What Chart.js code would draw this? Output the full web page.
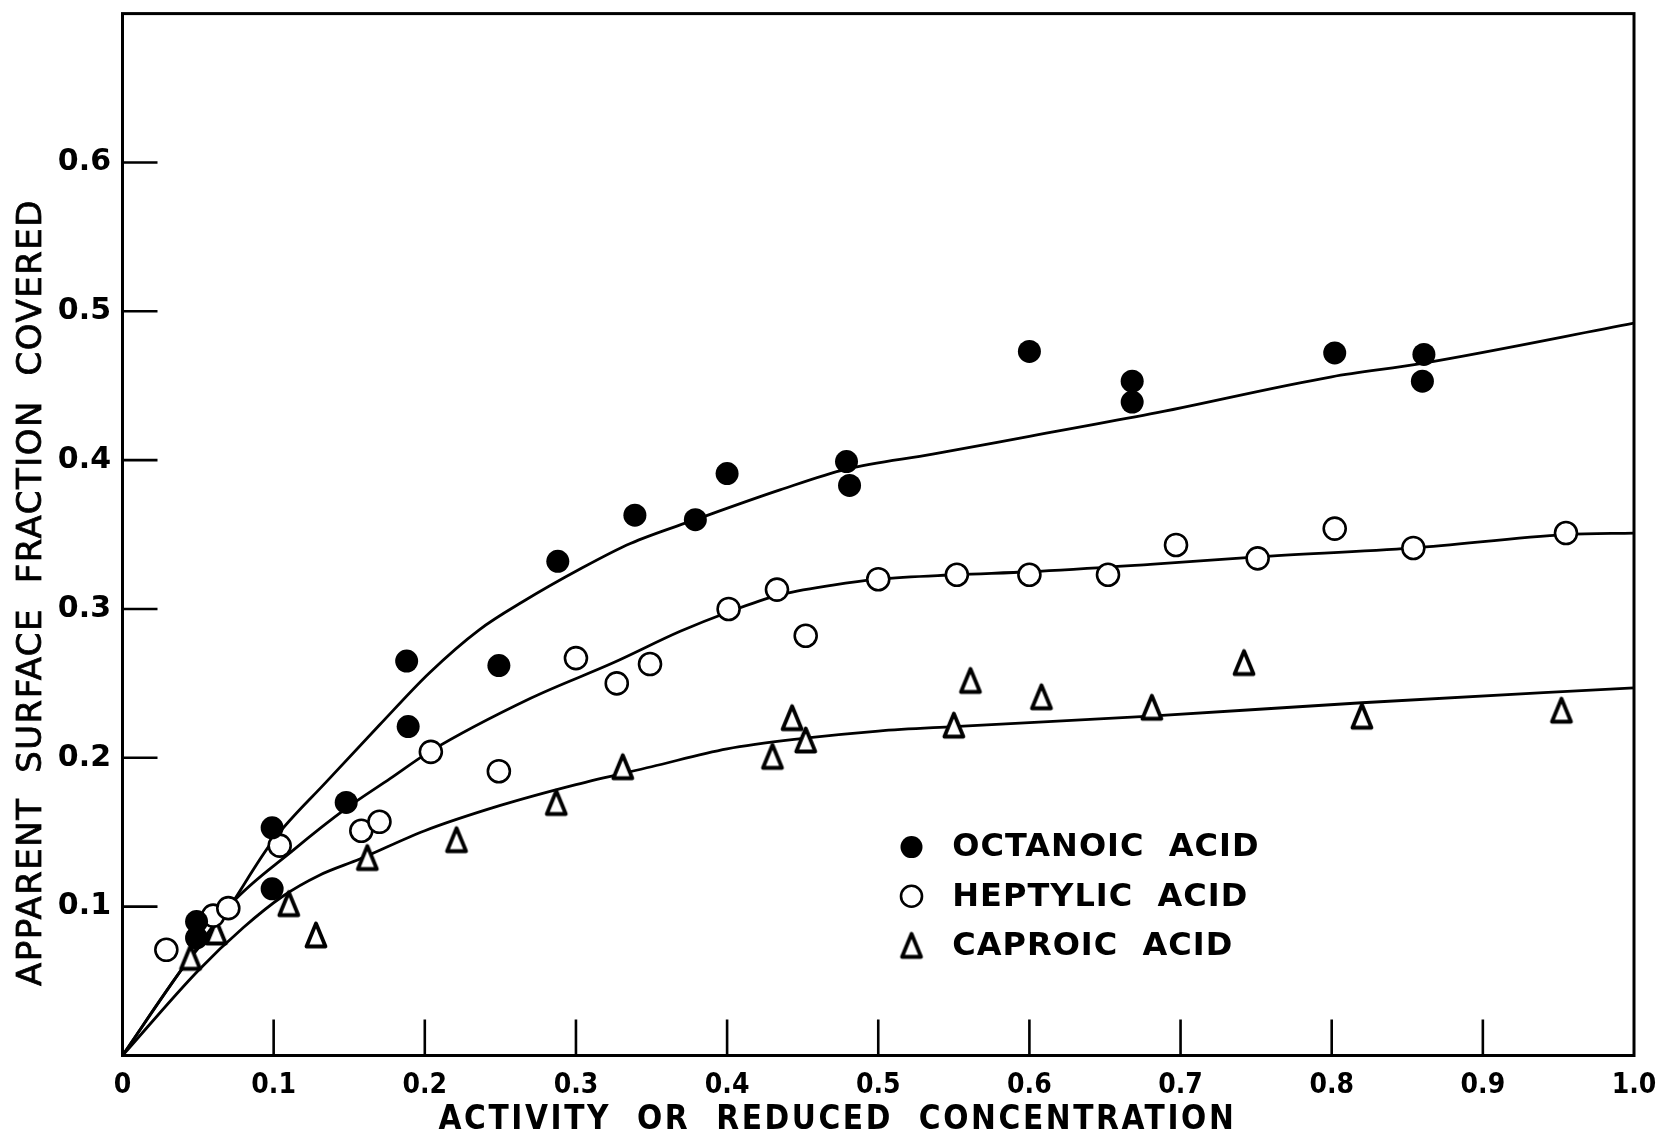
<!DOCTYPE html>
<html>
<head>
<meta charset="utf-8">
<title>Apparent surface fraction covered</title>
<script src="https://cdn.jsdelivr.net/npm/chart.js@4.4.0/dist/chart.umd.js"></script>
<style>
  html, body { margin: 0; padding: 0; background: #fff; }
  #wrap { width: 1666px; height: 1137px; position: relative; }
</style>
</head>
<body>
<div id="wrap"><canvas id="chart"></canvas></div>
<script>
// Axis ticks
const xTickValues = [0, 0.1, 0.2, 0.3, 0.4, 0.5, 0.6, 0.7, 0.8, 0.9, 1.0];
const xTickLabels = ['0', '0.1', '0.2', '0.3', '0.4', '0.5', '0.6', '0.7', '0.8', '0.9', '1.0'];
const yTickValues = [0.1, 0.2, 0.3, 0.4, 0.5, 0.6];
const yTickLabels = ['0.1', '0.2', '0.3', '0.4', '0.5', '0.6'];

const xTitle = 'ACTIVITY  OR  REDUCED  CONCENTRATION';
const yTitle = 'APPARENT  SURFACE  FRACTION  COVERED';
const seriesNames = ['OCTANOIC  ACID', 'HEPTYLIC  ACID', 'CAPROIC  ACID'];

const octanoicX = [0.049, 0.049, 0.099, 0.099, 0.148, 0.188, 0.189, 0.249, 0.288, 0.339, 0.379, 0.400, 0.479, 0.481, 0.600, 0.668, 0.668, 0.802, 0.861, 0.860];
const octanoicY = [0.090, 0.079, 0.153, 0.112, 0.170, 0.265, 0.221, 0.262, 0.332, 0.363, 0.360, 0.391, 0.399, 0.383, 0.473, 0.453, 0.439, 0.472, 0.471, 0.453];

const heptylicX = [0.029, 0.060, 0.070, 0.104, 0.158, 0.170, 0.204, 0.249, 0.300, 0.327, 0.349, 0.401, 0.433, 0.452, 0.500, 0.552, 0.600, 0.652, 0.697, 0.751, 0.802, 0.854, 0.955];
const heptylicY = [0.071, 0.094, 0.099, 0.141, 0.151, 0.157, 0.204, 0.191, 0.267, 0.250, 0.263, 0.300, 0.313, 0.282, 0.320, 0.323, 0.323, 0.323, 0.343, 0.334, 0.354, 0.341, 0.351];

const caproicX = [0.045, 0.062, 0.110, 0.128, 0.162, 0.221, 0.287, 0.331, 0.430, 0.443, 0.452, 0.550, 0.561, 0.608, 0.681, 0.742, 0.820, 0.952];
const caproicY = [0.066, 0.083, 0.102, 0.081, 0.133, 0.145, 0.170, 0.194, 0.201, 0.227, 0.212, 0.222, 0.252, 0.241, 0.234, 0.264, 0.228, 0.232];

// Hand-drawn smooth curves (traced)
const octanoicCurveX = [0, 0.04, 0.065, 0.10, 0.135, 0.17, 0.203, 0.236, 0.265, 0.303, 0.336, 0.379, 0.435, 0.479, 0.536, 0.60, 0.68, 0.80, 0.86, 1.0];
const octanoicCurveY = [0, 0.059, 0.091, 0.145, 0.184, 0.222, 0.257, 0.286, 0.305, 0.327, 0.344, 0.360, 0.380, 0.394, 0.404, 0.416, 0.431, 0.456, 0.465, 0.492];

const heptylicCurveX = [0, 0.04, 0.071, 0.113, 0.148, 0.177, 0.203, 0.27, 0.325, 0.369, 0.401, 0.433, 0.47, 0.50, 0.552, 0.60, 0.68, 0.751, 0.854, 0.955, 1.0];
const heptylicCurveY = [0, 0.059, 0.101, 0.138, 0.166, 0.186, 0.204, 0.240, 0.264, 0.285, 0.298, 0.309, 0.316, 0.320, 0.323, 0.325, 0.330, 0.335, 0.341, 0.350, 0.351];

const caproicCurveX = [0, 0.05, 0.08, 0.106, 0.13, 0.157, 0.20, 0.25, 0.30, 0.35, 0.40, 0.45, 0.50, 0.55, 0.68, 0.82, 1.0];
const caproicCurveY = [0, 0.057, 0.086, 0.107, 0.121, 0.132, 0.151, 0.168, 0.182, 0.194, 0.206, 0.213, 0.218, 0.221, 0.228, 0.237, 0.247];

// Legend placement in data units
const legendMarkX = 0.522;
const legendTextX = 0.549;
const legendRowsY = [0.140, 0.107, 0.074];

function toPoints(xs, ys) {
    return xs.map((x, i) => ({ x: x, y: ys[i] }));
}

// open triangle marker, a bit taller than wide like the original
function makeTriangle() {
    const c = document.createElement('canvas');
    c.width = 28;
    c.height = 32;
    const g = c.getContext('2d');
    g.lineWidth = 3.8;
    g.lineJoin = 'round';
    g.beginPath();
    g.moveTo(14, 4.5);
    g.lineTo(23.5, 27.5);
    g.lineTo(4.5, 27.5);
    g.closePath();
    g.fillStyle = '#fff';
    g.fill();
    g.strokeStyle = '#000';
    g.stroke();
    return c;
}
const triangle = makeTriangle();

const tickFontY = { family: "'DejaVu Sans', sans-serif", size: 30, weight: 'bold' };
const tickFontX = { family: "'DejaVu Sans Condensed', 'Liberation Sans Narrow', 'DejaVu Sans', sans-serif", size: 28, weight: 'bold' };

function curve(xs, ys) {
    return {
        type: 'line',
        data: toPoints(xs, ys),
        borderColor: '#000',
        borderWidth: 2.8,
        pointRadius: 0,
        fill: false,
        cubicInterpolationMode: 'monotone',
        order: 1
    };
}

function tickLabel(values, labels) {
    return function (value) {
        const i = values.findIndex(v => Math.abs(v - value) < 1e-6);
        return i >= 0 ? labels[i] : null;
    };
}

// Frame, inward ticks, axis titles and legend
const decorPlugin = {
    id: 'decor',
    afterDraw(chart) {
        const { ctx, chartArea: a } = chart;
        const xs = chart.scales.x;
        const ys = chart.scales.y;
        ctx.save();
        ctx.strokeStyle = '#000';
        ctx.fillStyle = '#000';
        ctx.lineWidth = 3;
        ctx.strokeRect(a.left, a.top, a.right - a.left, a.bottom - a.top);

        ctx.lineWidth = 2.6;
        ctx.beginPath();
        xTickValues.slice(1, -1).forEach(v => {
            const px = xs.getPixelForValue(v);
            ctx.moveTo(px, a.bottom);
            ctx.lineTo(px, a.bottom - 36);
        });
        yTickValues.forEach(v => {
            const py = ys.getPixelForValue(v);
            ctx.moveTo(a.left, py);
            ctx.lineTo(a.left + 35, py);
        });
        ctx.stroke();

        // x axis title
        ctx.textBaseline = 'middle';
        ctx.textAlign = 'center';
        ctx.font = "bold 33px 'DejaVu Sans Condensed', 'Liberation Sans Narrow', 'DejaVu Sans', sans-serif";
        ctx.letterSpacing = '2.6px';
        ctx.fillText(xTitle, xs.getPixelForValue(0.473), a.bottom + 65);

        // y axis title
        ctx.save();
        ctx.translate(32, ys.getPixelForValue(0.311));
        ctx.rotate(-Math.PI / 2);
        ctx.font = "34px 'DejaVu Sans', sans-serif";
        ctx.letterSpacing = '1.5px';
        ctx.lineWidth = 0.8;
        ctx.strokeStyle = '#000';
        ctx.fillText(yTitle, 0, 0);
        ctx.strokeText(yTitle, 0, 0);
        ctx.restore();

        // legend
        ctx.letterSpacing = '1px';
        ctx.textAlign = 'left';
        ctx.font = "bold 32px 'DejaVu Sans', sans-serif";
        for (let i = 0; i < seriesNames.length; i++) {
            const ds = chart.data.datasets[i];
            const py = ys.getPixelForValue(legendRowsY[i]);
            ctx.fillStyle = ds.backgroundColor;
            ctx.strokeStyle = ds.borderColor;
            ctx.lineWidth = ds.borderWidth;
            Chart.helpers.drawPoint(ctx, {
                pointStyle: ds.pointStyle,
                radius: ds.pointRadius - 0.5,
                rotation: 0,
                borderWidth: ds.borderWidth
            }, xs.getPixelForValue(legendMarkX), py);
            ctx.fillStyle = '#000';
            ctx.fillText(seriesNames[i], xs.getPixelForValue(legendTextX), py + 1);
        }
        ctx.restore();
    }
};

const ctx = document.getElementById('chart');
new Chart(ctx, {
    type: 'scatter',
    data: {
        datasets: [
            {
                label: seriesNames[0],
                data: toPoints(octanoicX, octanoicY),
                pointStyle: 'circle',
                pointRadius: 11.5,
                backgroundColor: '#000',
                borderColor: '#000',
                borderWidth: 0,
                order: 0
            },
            {
                label: seriesNames[1],
                data: toPoints(heptylicX, heptylicY),
                pointStyle: 'circle',
                pointRadius: 11,
                backgroundColor: '#fff',
                borderColor: '#000',
                borderWidth: 2.6,
                order: 0
            },
            {
                label: seriesNames[2],
                data: toPoints(caproicX, caproicY),
                pointStyle: triangle,
                pointRadius: 12,
                backgroundColor: '#fff',
                borderColor: '#000',
                borderWidth: 0,
                order: 0
            },
            curve(octanoicCurveX, octanoicCurveY),
            curve(heptylicCurveX, heptylicCurveY),
            curve(caproicCurveX, caproicCurveY)
        ]
    },
    options: {
        responsive: true,
        maintainAspectRatio: false,
        animation: false,
        events: [],
        layout: {
            padding: { left: 0, right: 32, top: 8.5, bottom: 0 }
        },
        plugins: {
            legend: { display: false },
            tooltip: { enabled: false }
        },
        scales: {
            x: {
                type: 'linear',
                min: 0,
                max: 1,
                grid: { display: false, drawTicks: false },
                border: { display: false },
                afterFit(scale) {
                    scale.height = 81.5;
                    scale.paddingLeft = 0;
                    scale.paddingRight = 0;
                },
                ticks: {
                    stepSize: 0.1,
                    autoSkip: false,
                    maxRotation: 0,
                    padding: 13,
                    color: '#000',
                    font: tickFontX,
                    callback: tickLabel(xTickValues, xTickLabels)
                }
            },
            y: {
                type: 'linear',
                min: 0,
                max: 0.7,
                grid: { display: false, drawTicks: false },
                border: { display: false },
                afterFit(scale) {
                    scale.width = 122.5;
                    scale.paddingTop = 0;
                    scale.paddingBottom = 0;
                },
                ticks: {
                    stepSize: 0.1,
                    autoSkip: false,
                    padding: 11.5,
                    color: '#000',
                    font: tickFontY,
                    callback: tickLabel(yTickValues, yTickLabels)
                }
            }
        }
    },
    plugins: [decorPlugin]
});
</script>
</body>
</html>
